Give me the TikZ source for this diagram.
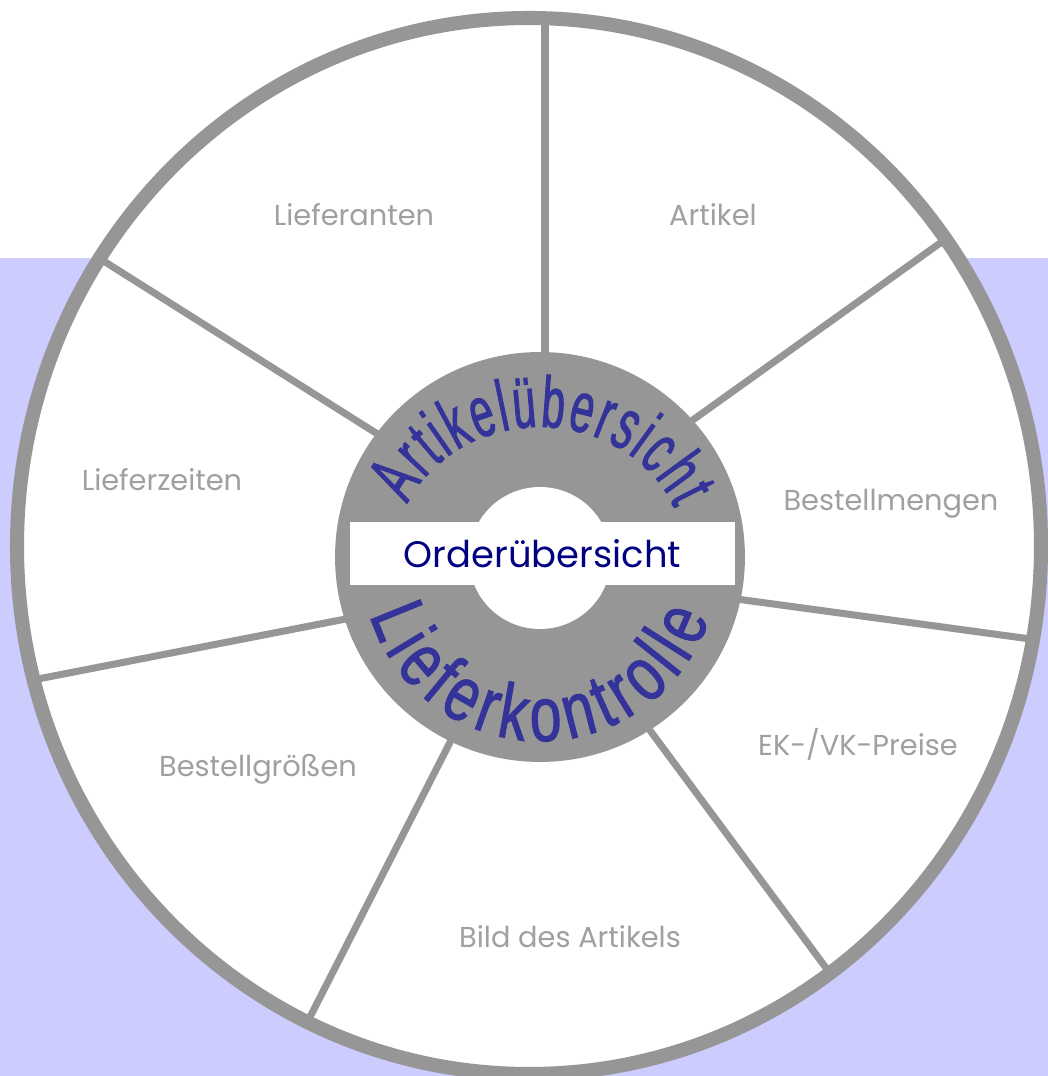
\documentclass[tikz,border=0pt]{standalone}
\usepackage{fontspec}
\setmainfont{Poppins}
\newfontfamily\archupfont[FakeStretch=0.58, FakeBold=1.3]{Liberation Sans}
\newfontfamily\archdownfont[FakeStretch=0.74, FakeBold=1.3]{Liberation Sans}
\usetikzlibrary{decorations.text}
\definecolor{WheelGray}{RGB}{150,150,150}
\definecolor{WheelBack}{RGB}{204,204,255}
\definecolor{LabelGray}{RGB}{160,160,160}
\definecolor{OrderNavy}{RGB}{0,0,128}
\definecolor{ArcBlue}{RGB}{51,51,153}

\begin{document}
\begin{tikzpicture}[x=0.02cm, y=0.02cm,
          spoke/.style={draw=WheelGray, line width=4pt},
          rim/.style={draw=WheelGray, line width=8pt},
          segtext/.style={font=\fontsize{16.4}{18}\selectfont, text=LabelGray},
          hubdisc/.style={circle, fill=WheelGray, inner sep=0pt},
          holedisc/.style={circle, fill=white, inner sep=0pt}
        ]
        \useasboundingbox (0,0) rectangle (1048,1076);
        \clip (0,0) rectangle (1048,1076);

        % Background
        \fill[white] (0,0) rectangle (1048,1076);
        \fill[WheelBack] (0,0) rectangle (1048,818);
        \fill[white] (529,530) ellipse [x radius=512, y radius=528];

        % Spokes
        \coordinate (s1a) at (545,520);  \coordinate (s1b) at (545,1055);
        \coordinate (s2a) at (560,561);  \coordinate (s2b) at (950,840);
        \coordinate (s3a) at (560,501);  \coordinate (s3b) at (1038,436);
        \coordinate (s4a) at (560,467);  \coordinate (s4b) at (832,100);
        \coordinate (s5a) at (520,471);  \coordinate (s5b) at (309,57);
        \coordinate (s6a) at (520,491);  \coordinate (s6b) at (38,397);
        \coordinate (s7a) at (520,552);  \coordinate (s7b) at (102,816);
        \foreach \s in {1,...,7}
          \draw[spoke] (s\s a) -- (s\s b);

        % Rim
        \draw[rim] (529,530) ellipse [x radius=512, y radius=528];

        % Hub
        \node[hubdisc, minimum size=8.2cm] (hub) at (540,519) {};
        \node[holedisc, minimum size=2.84cm] (hole) at (540,518) {};
        \node[fill=white, minimum width=7.7cm, minimum height=1.26cm,
              inner sep=0pt, text=OrderNavy,
              font=\fontsize{21}{24}\selectfont] (order) at (542.5,522.5)
              {Orderübersicht};

        % Arched titles
        \path[decorate, decoration={text along path, text align=fit to path,
              text={|\archupfont\fontsize{41}{42}\selectfont\color{ArcBlue}|Artikelübersicht}}]
              (540,519) ++(156:145 and 130)
              arc[start angle=156, end angle=22, x radius=145, y radius=130];
        \path[decorate, decoration={text along path, text align=fit to path,
              text={|\archdownfont\fontsize{44}{45}\selectfont\color{ArcBlue}|Lieferkontrolle}}]
              (540,513) ++(197:178)
              arc[start angle=197, end angle=342, radius=178];

        % Segment labels
        \node[segtext] (lieferanten) at (354,861) {Lieferanten};
        \node[segtext] (artikel)     at (713,861) {Artikel};
        \node[segtext] (mengen)      at (891,572) {Bestellmengen};
        \node[segtext] (zeiten)      at (162,596) {Lieferzeiten};
        \node[segtext] (groessen)    at (258,307) {Bestellgrößen};
        \node[segtext] (preise)      at (858,332) {EK-/VK-Preise};
        \node[segtext] (bild)        at (570,139) {Bild des Artikels};
      \end{tikzpicture}
\end{document}
